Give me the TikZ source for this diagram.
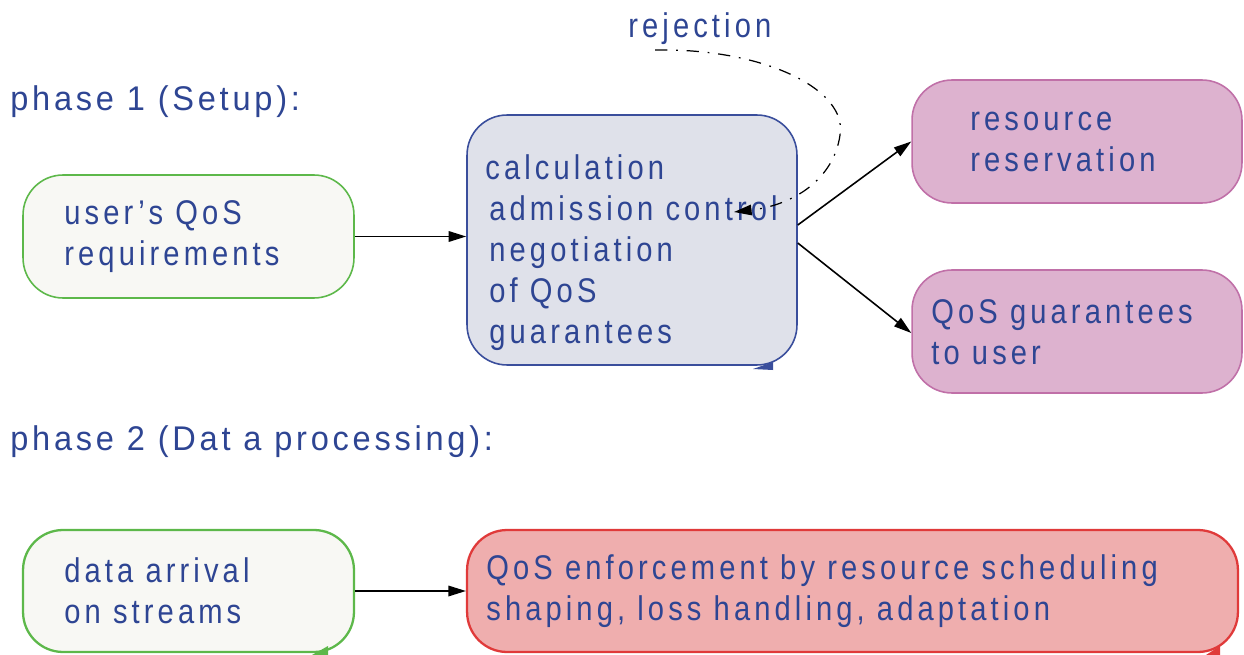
\documentclass[tikz,border=0pt]{standalone}
\usepackage{fontspec}
\setmainfont{Liberation Sans}[LetterSpace=12, FakeStretch=0.85]
\newfontfamily\titlefont{Liberation Sans}[LetterSpace=11, FakeStretch=0.95]
\usetikzlibrary{arrows.meta}
\definecolor{txt}{HTML}{2E4593}
\definecolor{grnline}{HTML}{5DB84A}
\definecolor{grnfill}{HTML}{F8F8F4}
\definecolor{blueline}{HTML}{3A4E9C}
\definecolor{bluefill}{HTML}{DFE1EA}
\definecolor{pinkline}{HTML}{C070A8}
\definecolor{pinkfill}{HTML}{DDB2CF}
\definecolor{redline}{HTML}{E03A3A}
\definecolor{redfill}{HTML}{EFAEAE}
\tikzset{
  boxbase/.style={draw, rounded corners=0.8cm, line width=0.9pt, inner sep=0pt},
  greenbox/.style={boxbase, draw=grnline, fill=grnfill},
  bluebox/.style={boxbase, draw=blueline, fill=bluefill},
  pinkbox/.style={boxbase, draw=pinkline, fill=pinkfill},
  redbox/.style={boxbase, draw=redline, fill=redfill},
  label/.style={text=txt, align=left, anchor=west, inner sep=0pt,
    font=\fontsize{19.5}{23.3}\selectfont},
  title/.style={text=txt, anchor=west, inner sep=0pt,
    font=\titlefont\fontsize{19.5}{23}\selectfont},
  conn/.style={line width=0.9pt, -{Triangle[length=10pt,width=6pt]}},
}
\begin{document}
\begin{tikzpicture}[x=0.02cm,y=-0.02cm]
\useasboundingbox (0,0) rectangle (1244,655);

% boxes
\node[greenbox, minimum width=6.62cm, minimum height=2.46cm] (user) at (188.5,236.5) {};
\node[bluebox, minimum width=6.6cm, minimum height=5.0cm] (calc) at (632,240) {};
\node[pinkbox, minimum width=6.6cm, minimum height=2.46cm] (res) at (1077,141.5) {};
\node[pinkbox, minimum width=6.6cm, minimum height=2.46cm] (guar) at (1077,331.5) {};
\node[greenbox, line width=1.3pt, minimum width=6.62cm, minimum height=2.44cm] (data) at (188.5,591) {};
\node[redbox, line width=1.3pt, minimum width=15.42cm, minimum height=2.44cm] (enf) at (852.5,591) {};

% small corner marks
\fill[blueline] (753,369) -- (773,362) -- (773,370) -- cycle;
\fill[grnline] (312,655) -- (328,646) -- (328,655) -- cycle;
\fill[redline] (1206,655) -- (1220,646) -- (1220,655) -- cycle;

% texts
\node[title] (ph1) at (10,102) {phase 1 (Setup):};
\node[title] (ph2) at (10,442) {phase 2 (Dat a processing):};
\node[label] (rej) at (628,29) {rejection};
\node[label] (usertxt) at (64,237) {user’s QoS\\requirements};
\node[label] (calctxt) at (485,253) {calculation\\\hspace*{0.08cm}admission control\\\hspace*{0.08cm}negotiation\\\hspace*{0.08cm}of QoS\\\hspace*{0.08cm}guarantees};
\node[label] (restxt) at (970,142) {resource\\reservation};
\node[label] (guartxt) at (931,332) {QoS guarantees\\to user};
\node[label] (datatxt) at (64,591) {data arrival\\on streams};
\node[label] (enftxt) at (486,591) {QoS enforcement by resource scheduling\\shaping, loss handling, adaptation};

% connectors
\draw[conn] (user.east) -- (user.east -| calc.west);
\draw[conn] ([yshift=0.3cm]calc.east) -- (res.west);
\draw[conn] ([yshift=-0.06cm]calc.east) -- ([yshift=-0.03cm]guar.west);
\draw[conn] (data.east) -- (enf.west);

% rejection loop
\coordinate (rejstart) at (655,50);
\coordinate (rejend) at (734,212);
\draw[line width=0.7pt, dash pattern=on 7pt off 5pt on 1pt off 5pt,
  -{Triangle[length=10pt,width=6pt]}]
  (rejstart) .. controls (765,48) and (848,90) .. (840,135)
  .. controls (834,178) and (795,205) .. (rejend);
\end{tikzpicture}
\end{document}
